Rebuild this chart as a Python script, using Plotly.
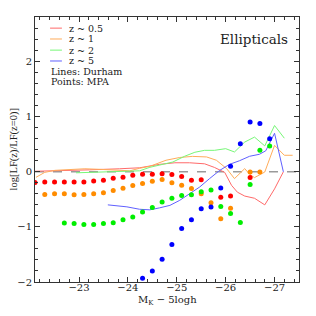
import plotly.graph_objects as go

# ---------------- data ----------------
# MPA points (bins of M_K - 5logh)
mpa_x_red = [-22.1, -22.3, -22.5, -22.7, -22.9, -23.1, -23.3, -23.5, -23.7, -23.9, -24.1, -24.3,
             -24.5, -24.7, -24.9, -25.1, -25.3, -25.5, -25.9, -26.1, -26.5]
mpa_y_red = [-0.196, -0.185, -0.185, -0.185, -0.185, -0.185, -0.167, -0.155, -0.118, -0.10, -0.064, -0.045,
             -0.045, -0.033, -0.051, -0.087, -0.155, -0.142, -0.46, -0.44, -0.105]

mpa_x_orange = [-22.3, -22.5, -22.7, -22.9, -23.1, -23.3, -23.5, -23.7, -23.9, -24.1, -24.3, -24.5,
                -24.7, -24.9, -25.1, -25.3, -25.5, -25.7, -25.9, -26.1, -26.5, -26.7]
mpa_y_orange = [-0.41, -0.40, -0.40, -0.415, -0.41, -0.40, -0.38, -0.34, -0.30, -0.25, -0.21, -0.17,
                -0.14, -0.20, -0.245, -0.305, -0.40, -0.56, -0.85, -0.66, -0.004, -0.004]

mpa_x_green = [-22.7, -22.9, -23.1, -23.3, -23.5, -23.7, -23.9, -24.1, -24.3, -24.5, -24.7, -24.9,
               -25.1, -25.3, -25.5, -25.7, -25.9, -26.1, -26.3, -26.5, -26.7, -26.9]
mpa_y_green = [-0.93, -0.94, -0.955, -0.955, -0.94, -0.925, -0.87, -0.82, -0.73, -0.65, -0.55, -0.48,
               -0.43, -0.415, -0.36, -0.33, -0.63, -0.755, -0.92, -0.23, 0.39, 0.47]

mpa_x_blue = [-24.3, -24.5, -24.7, -24.9, -25.1, -25.3, -25.5, -25.7, -25.9, -26.1, -26.3, -26.5, -26.7, -26.9]
mpa_y_blue = [-1.93, -1.80, -1.585, -1.32, -1.03, -0.87, -0.67, -0.64, -0.295, 0.10, 0.51, 0.905, 0.875, 0.60]

# Durham model lines
dur_x_red = [-22.1, -22.61, -23.22, -23.83, -24.24, -24.65, -24.96, -25.26, -25.57, -25.77, -25.98,
             -26.12, -26.24, -26.39, -26.59, -26.8, -27.0, -27.18]
dur_y_red = [0.01, 0.018, 0.036, 0.055, 0.073, 0.136, 0.164, 0.164, 0.145, 0.08, -0.01,
             -0.245, -0.37, -0.44, -0.48, -0.6, -0.31, 0.0]

dur_x_orange = [-22.12, -22.3, -22.51, -22.82, -23.12, -23.43, -23.73, -24.04, -24.24, -24.45, -24.78,
                -25.06, -25.32, -25.61, -25.81, -26.02, -26.18, -26.28, -26.39, -26.49, -26.59,
                -26.8, -27.0, -27.2, -27.37]
dur_y_orange = [-0.10, -0.01, 0.027, 0.045, 0.055, 0.045, 0.027, 0.018, 0.064, 0.10, 0.21,
                0.26, 0.28, 0.27, 0.21, 0.058, -0.124, -0.033, 0.058, -0.045, -0.105,
                -0.004, 0.48, 0.30, 0.30]

dur_x_green = [-22.94, -23.41, -23.83, -24.24, -24.45, -24.65, -24.92, -25.16, -25.37, -25.57, -25.77,
               -26.0, -26.18, -26.39, -26.59, -26.8, -27.0, -27.2]
dur_y_green = [-0.018, -0.009, 0.0, 0.018, 0.082, 0.118, 0.178, 0.282, 0.355, 0.39, 0.39,
               0.42, 0.36, 0.54, 0.63, 0.47, 0.84, 0.61]

dur_x_blue = [-23.59, -23.98, -24.24, -24.45, -24.65, -24.86, -25.06, -25.26, -25.47, -25.67, -25.88,
              -26.08, -26.28, -26.49, -26.69, -26.82, -27.0, -27.18]
dur_y_blue = [-0.60, -0.636, -0.68, -0.69, -0.654, -0.609, -0.518, -0.396, -0.275, -0.124, 0.027,
              0.136, 0.2, 0.282, 0.318, 0.382, 0.7, 0.0]

labels = ["z ~ 0.5", "z ~ 1", "z ~ 2", "z ~ 5"]
line_colors = ["#ff6a6a", "#ffac5a", "#77f777", "#6060ff"]
point_colors = ["#ff0000", "#ff8c00", "#00ee00", "#0000ff"]

FONT = "DejaVu Serif"
TXT = "#222222"

fig = go.Figure()

# zero reference line
fig.add_trace(go.Scatter(x=[-22.1, -27.5], y=[0, 0], mode="lines",
                         line=dict(color="#9a9a9a", width=1.5, dash="dash"),
                         showlegend=False, hoverinfo="skip"))

for xs, ys, c in [(dur_x_red, dur_y_red, line_colors[0]),
                  (dur_x_orange, dur_y_orange, line_colors[1]),
                  (dur_x_green, dur_y_green, line_colors[2]),
                  (dur_x_blue, dur_y_blue, line_colors[3])]:
    fig.add_trace(go.Scatter(x=xs, y=ys, mode="lines", line=dict(color=c, width=1),
                             showlegend=False))

for xs, ys, c in [(mpa_x_red, mpa_y_red, point_colors[0]),
                  (mpa_x_orange, mpa_y_orange, point_colors[1]),
                  (mpa_x_green, mpa_y_green, point_colors[2]),
                  (mpa_x_blue, mpa_y_blue, point_colors[3])]:
    fig.add_trace(go.Scatter(x=xs, y=ys, mode="markers",
                             marker=dict(color=c, size=5, line=dict(width=0)),
                             showlegend=False))

axis_common = dict(showgrid=False, zeroline=False, showline=True, linecolor="#333333", linewidth=1,
                   mirror="allticks", ticks="inside", ticklen=5, tickcolor="#333333", tickwidth=1,
                   tickfont=dict(family=FONT, size=10, color=TXT))

fig.update_xaxes(range=[-22.1, -27.5], dtick=1, tick0=-23, ticklabelstandoff=-4,
                 minor=dict(dtick=0.2, ticks="inside", ticklen=3, tickcolor="#333333"),
                 **axis_common)
fig.update_yaxes(range=[-2.0, 2.81], dtick=1, tick0=0,
                 minor=dict(dtick=0.2, ticks="inside", ticklen=3, tickcolor="#333333"),
                 **axis_common)

# axis titles
fig.add_annotation(xref="paper", yref="paper", x=0.5, y=-0.097, text="M<sub>K</sub> − 5logh",
                   showarrow=False, xanchor="center", yanchor="bottom", borderpad=0,
                   font=dict(family=FONT, size=10, color=TXT))
fig.add_annotation(xref="paper", yref="paper", x=-0.08, y=0.5, text="log[LF(z)/LF(z=0)]",
                   showarrow=False, textangle=-90, xanchor="center", yanchor="middle", borderpad=0,
                   font=dict(family="Liberation Serif", size=10.5, color=TXT))

# legend drawn by hand (top-left inside the frame)
leg_y = [0.958, 0.917, 0.875, 0.834]
for i, (lab, c) in enumerate(zip(labels, line_colors)):
    fig.add_shape(type="line", xref="paper", yref="paper", x0=0.057, x1=0.102, y0=leg_y[i], y1=leg_y[i],
                  line=dict(color=c, width=1))
    fig.add_annotation(xref="paper", yref="paper", x=0.126, y=leg_y[i], text=lab, showarrow=False,
                       xanchor="left", yanchor="middle", borderpad=0,
                       font=dict(family=FONT, size=9.5, color=TXT))
fig.add_annotation(xref="paper", yref="paper", x=0.058, y=0.796, text="Lines: Durham", showarrow=False,
                   xanchor="left", yanchor="middle", borderpad=0,
                   font=dict(family=FONT, size=9.5, color=TXT))
fig.add_annotation(xref="paper", yref="paper", x=0.058, y=0.756, text="Points: MPA", showarrow=False,
                   xanchor="left", yanchor="middle", borderpad=0,
                   font=dict(family=FONT, size=9.5, color=TXT))
fig.add_annotation(xref="paper", yref="paper", x=0.966, y=0.917, text="Ellipticals", showarrow=False,
                   xanchor="right", yanchor="middle",
                   font=dict(family=FONT, size=13.5, color=TXT))

# the page body adds an 8px margin, so the figure is sized/margined to put the frame
# at the same window position as the reference
fig.update_layout(width=300, height=300, margin=dict(l=27, r=9, t=9, b=26),
                  paper_bgcolor="white", plot_bgcolor="white", showlegend=False)

fig.write_html("out.html")
